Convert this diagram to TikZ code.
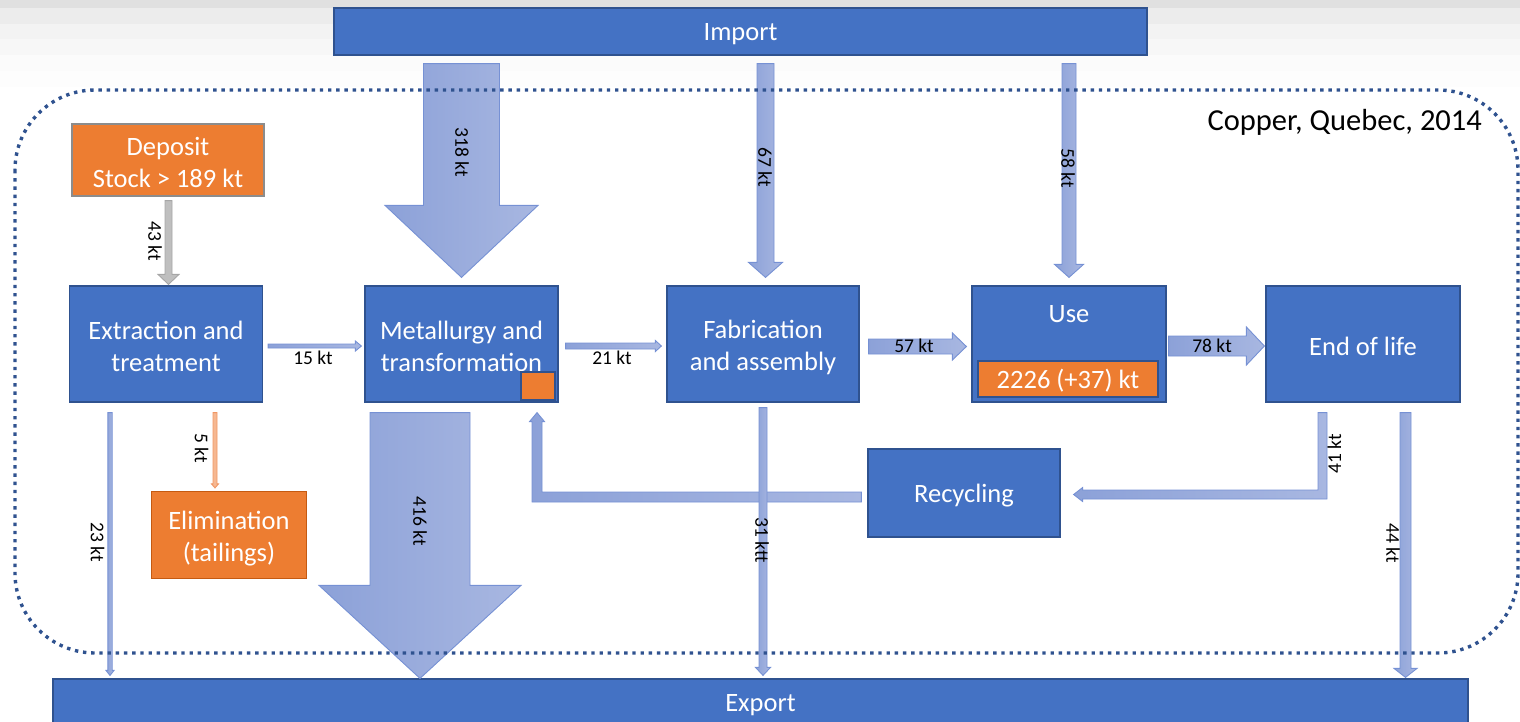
\documentclass[tikz,border=0pt]{standalone}
\usepackage{fontspec}
\setmainfont{Carlito}
\usetikzlibrary{calc}

\definecolor{boxblue}{HTML}{4472C4}
\definecolor{boxedge}{HTML}{2F528F}
\definecolor{orng}{HTML}{ED7D31}
\definecolor{orngedge}{HTML}{C55A11}
\definecolor{depedge}{RGB}{140,140,140}
\definecolor{flowL}{RGB}{140,161,216}
\definecolor{flowR}{RGB}{168,183,225}
\definecolor{flowedge}{RGB}{118,145,212}
\definecolor{greyflow}{RGB}{191,191,191}
\definecolor{greyedge}{RGB}{166,166,166}
\definecolor{oflow}{RGB}{246,184,146}
\definecolor{oflowedge}{RGB}{240,150,100}

\tikzset{
  proc/.style={draw=boxedge, fill=boxblue, line width=1.2pt, inner sep=0pt},
  stockbox/.style={proc, fill=orng},
  boxtext/.style={text=white, align=center, font=\fontsize{26.5}{32}\selectfont, inner sep=0pt},
  flow/.style={draw=flowedge, line width=0.9pt, left color=flowL, right color=flowR},
  greyflowstyle/.style={draw=greyedge, line width=0.9pt, fill=greyflow},
  orangeflow/.style={draw=oflowedge, line width=0.9pt, fill=oflow},
  lbl/.style={text=black, font=\fontsize{19.5}{22}\selectfont, inner sep=0pt},
  systemline/.style={draw=boxedge, line width=3.4pt, dash pattern=on 3.4pt off 4.8pt,
    rounded corners=80pt},
}

% straight block arrow: [style] {start} {tip} {shaft half width} {head half width} {head length}
\newcommand\flowarrow[6][flow]{%
  \coordinate (fa-hb) at ($(#3)!#6!(#2)$);
  \path[#1]
    ($(#2)!#4!90:(#3)$) -- ($(fa-hb)!#4!90:(#3)$) -- ($(fa-hb)!#5!90:(#3)$) -- (#3)
    -- ($(fa-hb)!#5!-90:(#3)$) -- ($(fa-hb)!#4!-90:(#3)$) -- ($(#2)!#4!-90:(#3)$) -- cycle;
}

\begin{document}
\begin{tikzpicture}[x=1pt, y=-1pt]
\useasboundingbox (0,0) rectangle (1520,721);

% faint banding along the top edge
\fill[color={rgb,255:red,224;green,224;blue,224}] (0,0) rectangle (1520,8);
\fill[color={rgb,255:red,236;green,236;blue,236}] (0,8) rectangle (1520,24);
\fill[color={rgb,255:red,243;green,243;blue,243}] (0,24) rectangle (1520,39);
\fill[color={rgb,255:red,247;green,247;blue,247}] (0,39) rectangle (1520,55);
\fill[color={rgb,255:red,251;green,251;blue,251}] (0,55) rectangle (1520,71);
\fill[color={rgb,255:red,253;green,253;blue,253}] (0,71) rectangle (1520,87);

% process boxes
\node[proc, minimum width=813pt, minimum height=47pt] (import) at (740.5,31.5) {};
\node[stockbox, draw=depedge, minimum width=192pt, minimum height=72pt] (deposit) at (168,160) {};
\node[proc, minimum width=193pt, minimum height=116pt] (extract) at (166,344) {};
\node[proc, minimum width=193pt, minimum height=116pt] (met) at (461.5,344) {};
\node[proc, minimum width=192pt, minimum height=116pt] (fab) at (763,344) {};
\node[proc, minimum width=194pt, minimum height=116pt] (use) at (1069,344) {};
\node[proc, minimum width=194pt, minimum height=116pt] (eol) at (1363,344) {};
\node[proc, minimum width=192pt, minimum height=88pt] (recyc) at (964,493) {};
\node[stockbox, draw=orngedge, minimum width=155pt, minimum height=87pt] (elim) at (229,535) {};
\node[proc, minimum width=1415pt, minimum height=46pt] (export) at (760.5,702) {};

% box captions
\node[boxtext] (import-txt) at ($(import.center)+(0,3)$) {Import};
\node[boxtext] (deposit-txt) at ($(deposit.center)+(0,2.5)$) {Deposit\\Stock > 189 kt};
\node[boxtext] (extract-txt) at ($(extract.center)+(0,2.5)$) {Extraction and\\treatment};
\node[boxtext] (met-txt) at ($(met.center)+(0,2.5)$) {Metallurgy and\\transformation};
\node[boxtext] (fab-txt) at ($(fab.center)+(0,3)$) {Fabrication\\and assembly};
\node[boxtext] (eol-txt) at ($(eol.center)+(0,2.5)$) {End of life};
\node[boxtext] (recyc-txt) at ($(recyc.center)+(0,3)$) {Recycling};
\node[boxtext] (elim-txt) at ($(elim.center)+(0,3.5)$) {Elimination\\(tailings)};
\node[boxtext] (export-txt) at ($(export.center)+(0,3)$) {Export};

% flows in from import
\coordinate (s318) at ($(import.south -| met.north)+(0,8)$);
\coordinate (t318) at ($(met.north)+(0,-8)$);
\flowarrow{s318}{t318}{38pt}{76.5pt}{72pt}
\coordinate (s67) at ($(import.south -| fab.north)+(2.5,8)$);
\coordinate (t67) at ($(fab.north)+(2.5,-8)$);
\flowarrow{s67}{t67}{8.5pt}{17pt}{15pt}
\coordinate (s58) at ($(import.south -| use.north)+(0,8)$);
\coordinate (t58) at ($(use.north)+(0,-8)$);
\flowarrow{s58}{t58}{7pt}{14.5pt}{13pt}

% mining
\coordinate (s43) at ($(deposit.south)+(0.5,4)$);
\coordinate (t43) at ($(extract.north -| s43)+(0,-1)$);
\flowarrow[greyflowstyle]{s43}{t43}{3.5pt}{10.5pt}{10pt}

% chain between the processes
\coordinate (s15) at ($(extract.east)+(5,2)$);
\coordinate (t15) at ($(met.west)+(-3,2)$);
\flowarrow{s15}{t15}{2pt}{5pt}{6pt}
\coordinate (s21) at ($(met.east)+(7,2)$);
\coordinate (t21) at ($(fab.west)+(-5,2)$);
\flowarrow{s21}{t21}{3pt}{5.5pt}{6pt}
\coordinate (s57) at ($(fab.east)+(9,2.5)$);
\coordinate (t57) at ($(use.west)+(-5,2.5)$);
\flowarrow{s57}{t57}{7.5pt}{13.5pt}{14pt}
\coordinate (s78) at ($(use.east)+(2,2)$);
\coordinate (t78) at ($(eol.west)+(-1,2)$);
\flowarrow{s78}{t78}{10pt}{19pt}{18pt}

% flows leaving the processes downwards
\coordinate (s23) at ($(extract.south)+(-56,10)$);
\coordinate (t23) at ($(export.north -| s23)+(0,-3)$);
\flowarrow{s23}{t23}{2.2pt}{4pt}{5pt}
\coordinate (s5) at ($(extract.south)+(49,10)$);
\coordinate (t5) at ($(elim.north -| s5)+(0,-3)$);
\flowarrow[orangeflow]{s5}{t5}{2pt}{3.5pt}{4pt}
\coordinate (s416) at ($(met.south)+(-41.5,10)$);
\coordinate (t416) at (export.north -| s416);
\flowarrow{s416}{t416}{50pt}{101pt}{93pt}

% end of life to recycling (elbow)
\coordinate (er-s) at ($(eol.south)+(-40.5,10)$);
\coordinate (er-t) at ($(recyc.east)+(13,1.5)$);
\path[flow] ($(er-s)+(-4.5,0)$) -- ($(er-s)+(4.5,0)$) -- ($(er-s|-er-t)+(4.5,4.5)$)
  -- ($(er-t)+(9,4.5)$) -- ($(er-t)+(9,7)$) -- (er-t) -- ($(er-t)+(9,-7)$)
  -- ($(er-t)+(9,-4.5)$) -- ($(er-s|-er-t)+(-4.5,-4.5)$) -- cycle;

% recycling back to metallurgy (elbow)
\coordinate (rr-s) at ($(recyc.west)+(-6,4)$);
\coordinate (rr-t) at ($(met.south)+(75.5,10)$);
\path[flow] ($(rr-s)+(0,-5)$) -- ($(rr-t|-rr-s)+(5,-5)$) -- ($(rr-t)+(5,9)$)
  -- ($(rr-t)+(7.5,9)$) -- (rr-t) -- ($(rr-t)+(-7.5,9)$) -- ($(rr-t)+(-5,9)$)
  -- ($(rr-t|-rr-s)+(-5,5)$) -- ($(rr-s)+(0,5)$) -- cycle;

\coordinate (s31) at ($(fab.south)+(0,5)$);
\coordinate (t31) at ($(export.north -| s31)+(0,-3)$);
\flowarrow{s31}{t31}{4pt}{7.5pt}{8pt}
\coordinate (s44) at ($(eol.south)+(42.5,10)$);
\coordinate (t44) at ($(export.north -| s44)+(0,-1)$);
\flowarrow{s44}{t44}{5.5pt}{11.5pt}{9pt}

% system boundary
\draw[systemline] (15,90) rectangle (1518,653);

% stocks inside the processes
\node[stockbox, minimum width=34pt, minimum height=28pt] (metstock) at (538,386) {};
\node[boxtext] (usetitle) at (1069,314) {Use};
\node[stockbox, minimum width=180pt, minimum height=36pt] (usestock) at (1068,379) {};
\node[boxtext] (usestock-txt) at ($(usestock.center)+(0,2)$) {2226 (+37) kt};

\node[anchor=base east, font=\fontsize{30.5}{36}\selectfont, inner sep=0pt] (title) at (1482,130) {Copper, Quebec, 2014};

% flow labels
\node[lbl, rotate=-90] (l318) at (462,152) {318 kt};
\node[lbl, rotate=-90] (l67) at (765,167) {67 kt};
\node[lbl, rotate=-90] (l58) at (1068,168) {58 kt};
\node[lbl, rotate=-90] (l43) at (155,241) {43 kt};
\node[lbl] (l15) at (313,358) {15 kt};
\node[lbl] (l21) at (612,358) {21 kt};
\node[lbl] (l57) at (914,346) {57 kt};
\node[lbl] (l78) at (1212,346) {78 kt};
\node[lbl, rotate=-90] (l23) at (97.5,542) {23 kt};
\node[lbl, rotate=-90] (l5) at (201.5,448) {5 kt};
\node[lbl, rotate=-90] (l416) at (420,521) {416 kt};
\node[lbl, rotate=-90] (l31) at (762,540) {31 ktt};
\node[lbl, rotate=90] (l41) at (1334.5,454) {41 kt};
\node[lbl, rotate=-90] (l44) at (1393,543) {44 kt};
\end{tikzpicture}
\end{document}
